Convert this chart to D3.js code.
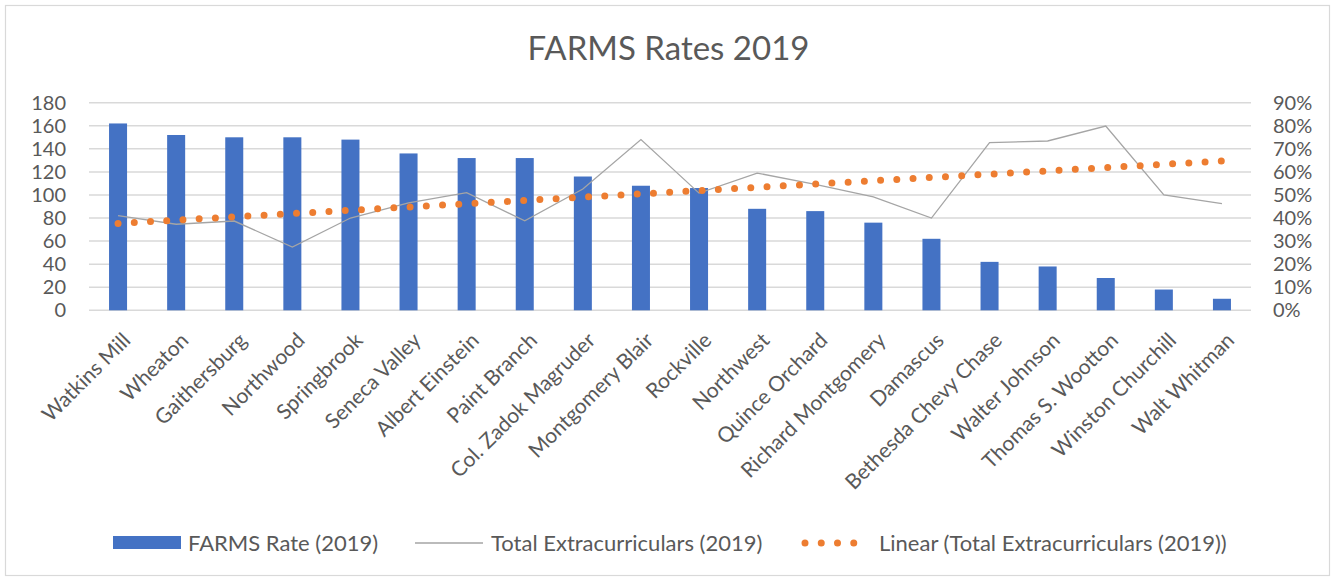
<!DOCTYPE html>
<html><head><meta charset="utf-8">
<script src="https://cdn.jsdelivr.net/npm/d3@7"></script>
<style>
body{margin:0;background:#fff}
text{font-family:Lato,"Open Sans",sans-serif;fill:#595959}
</style>
</head><body>
<svg id="c" width="1331" height="578"></svg>
<script>
const schools = ["Watkins Mill","Wheaton","Gaithersburg","Northwood","Springbrook","Seneca Valley","Albert Einstein","Paint Branch","Col. Zadok Magruder","Montgomery Blair","Rockville","Northwest","Quince Orchard","Richard Montgomery","Damascus","Bethesda Chevy Chase","Walter Johnson","Thomas S. Wootton","Winston Churchill","Walt Whitman"];
const farmsRate = [162,152,150,150,148,136,132,132,116,108,106,88,86,76,62,42,38,28,18,10];
const extracurriculars = [41.0,37.3,38.7,27.4,40.0,46.6,51.0,38.8,52.6,74.0,50.8,59.5,54.6,49.2,40.0,72.7,73.4,79.9,50.0,46.2];
const leftTicks = [0,20,40,60,80,100,120,140,160,180];
const rightTicks = [0,10,20,30,40,50,60,70,80,90];
const title = "FARMS Rates 2019";
const legendLabels = ["FARMS Rate (2019)","Total Extracurriculars (2019)","Linear (Total Extracurriculars (2019))"];

const svg = d3.select("#c");
const L=89, R=1251, T=102.7, B=310.3;
const blue="#4472C4", gray="#A5A5A5", orange="#ED7D31", grid="#D9D9D9";

svg.append("rect").attr("x",5.5).attr("y",5.5).attr("width",1324).attr("height",570)
  .attr("fill","#fff").attr("stroke",grid).attr("stroke-width",1.2);

const x = d3.scaleBand().domain(schools).range([L,R]).paddingInner(0.69).paddingOuter(0.345);
const cx = d => x(d)+x.bandwidth()/2;
const yL = d3.scaleLinear().domain([0,180]).range([B,T]);
const yR = d3.scaleLinear().domain([0,90]).range([B,T]);

// gridlines
svg.append("g").selectAll("line").data(leftTicks).join("line")
  .attr("x1",L).attr("x2",R).attr("y1",d=>yL(d)).attr("y2",d=>yL(d))
  .attr("stroke",grid).attr("stroke-width",1.5);

// left axis
const axL = svg.append("g").attr("transform",`translate(${L},0)`)
  .call(d3.axisLeft(yL).tickValues(leftTicks).tickSize(0).tickPadding(23));
axL.select(".domain").remove();
axL.selectAll("text").attr("font-size",20).style("font-family","Lato");

// right axis
const axR = svg.append("g").attr("transform",`translate(${R},0)`)
  .call(d3.axisRight(yR).tickValues(rightTicks).tickSize(0).tickPadding(22).tickFormat(d=>d+"%"));
axR.select(".domain").remove();
axR.selectAll("text").attr("font-size",20).style("font-family","Lato");

// bars
svg.append("g").selectAll("rect").data(schools).join("rect")
  .attr("x",d=>x(d)).attr("width",x.bandwidth())
  .attr("y",(d,i)=>yL(farmsRate[i])).attr("height",(d,i)=>B-yL(farmsRate[i]))
  .attr("fill",blue);

// line
svg.append("path").datum(schools)
  .attr("d",d3.line().x(d=>cx(d)).y((d,i)=>yR(extracurriculars[i])))
  .attr("fill","none").attr("stroke",gray).attr("stroke-width",1.3);

// linear trend (least squares over category index)
const n = extracurriculars.length;
const xs = d3.range(1,n+1);
const mx = d3.mean(xs), my = d3.mean(extracurriculars);
const slope = d3.sum(xs,(v,i)=>(v-mx)*(extracurriculars[i]-my)) / d3.sum(xs,v=>(v-mx)*(v-mx));
const icpt = my - slope*mx;
svg.append("line")
  .attr("x1",cx(schools[0])).attr("y1",yR(icpt+slope*1))
  .attr("x2",cx(schools[n-1])).attr("y2",yR(icpt+slope*n))
  .attr("stroke",orange).attr("stroke-width",7).attr("stroke-linecap","round")
  .attr("stroke-dasharray","0,16.25");

// x labels
svg.append("g").selectAll("text").data(schools).join("text")
  .attr("transform",d=>`translate(${cx(d)+3},331) rotate(-45)`)
  .attr("text-anchor","end").attr("dy","0.72em").attr("font-size",21)
  .text(d=>d);

// title
svg.append("text").attr("x",668.5).attr("y",60).attr("text-anchor","middle")
  .attr("font-size",33).text(title);

// legend
const ly = 543;
svg.append("rect").attr("x",113).attr("y",536).attr("width",68).attr("height",13).attr("fill",blue);
svg.append("text").attr("x",188).attr("y",ly).attr("dy","0.35em").attr("font-size",22).text(legendLabels[0]);
svg.append("line").attr("x1",415).attr("x2",483).attr("y1",ly).attr("y2",ly).attr("stroke",gray).attr("stroke-width",1.3);
svg.append("text").attr("x",491).attr("y",ly).attr("dy","0.35em").attr("font-size",22).text(legendLabels[1]);
svg.append("line").attr("x1",805).attr("x2",870).attr("y1",ly).attr("y2",ly).attr("stroke",orange)
  .attr("stroke-width",7).attr("stroke-linecap","round").attr("stroke-dasharray","0,16.25");
svg.append("text").attr("x",879).attr("y",ly).attr("dy","0.35em").attr("font-size",22).text(legendLabels[2]);
</script>
</body></html>
